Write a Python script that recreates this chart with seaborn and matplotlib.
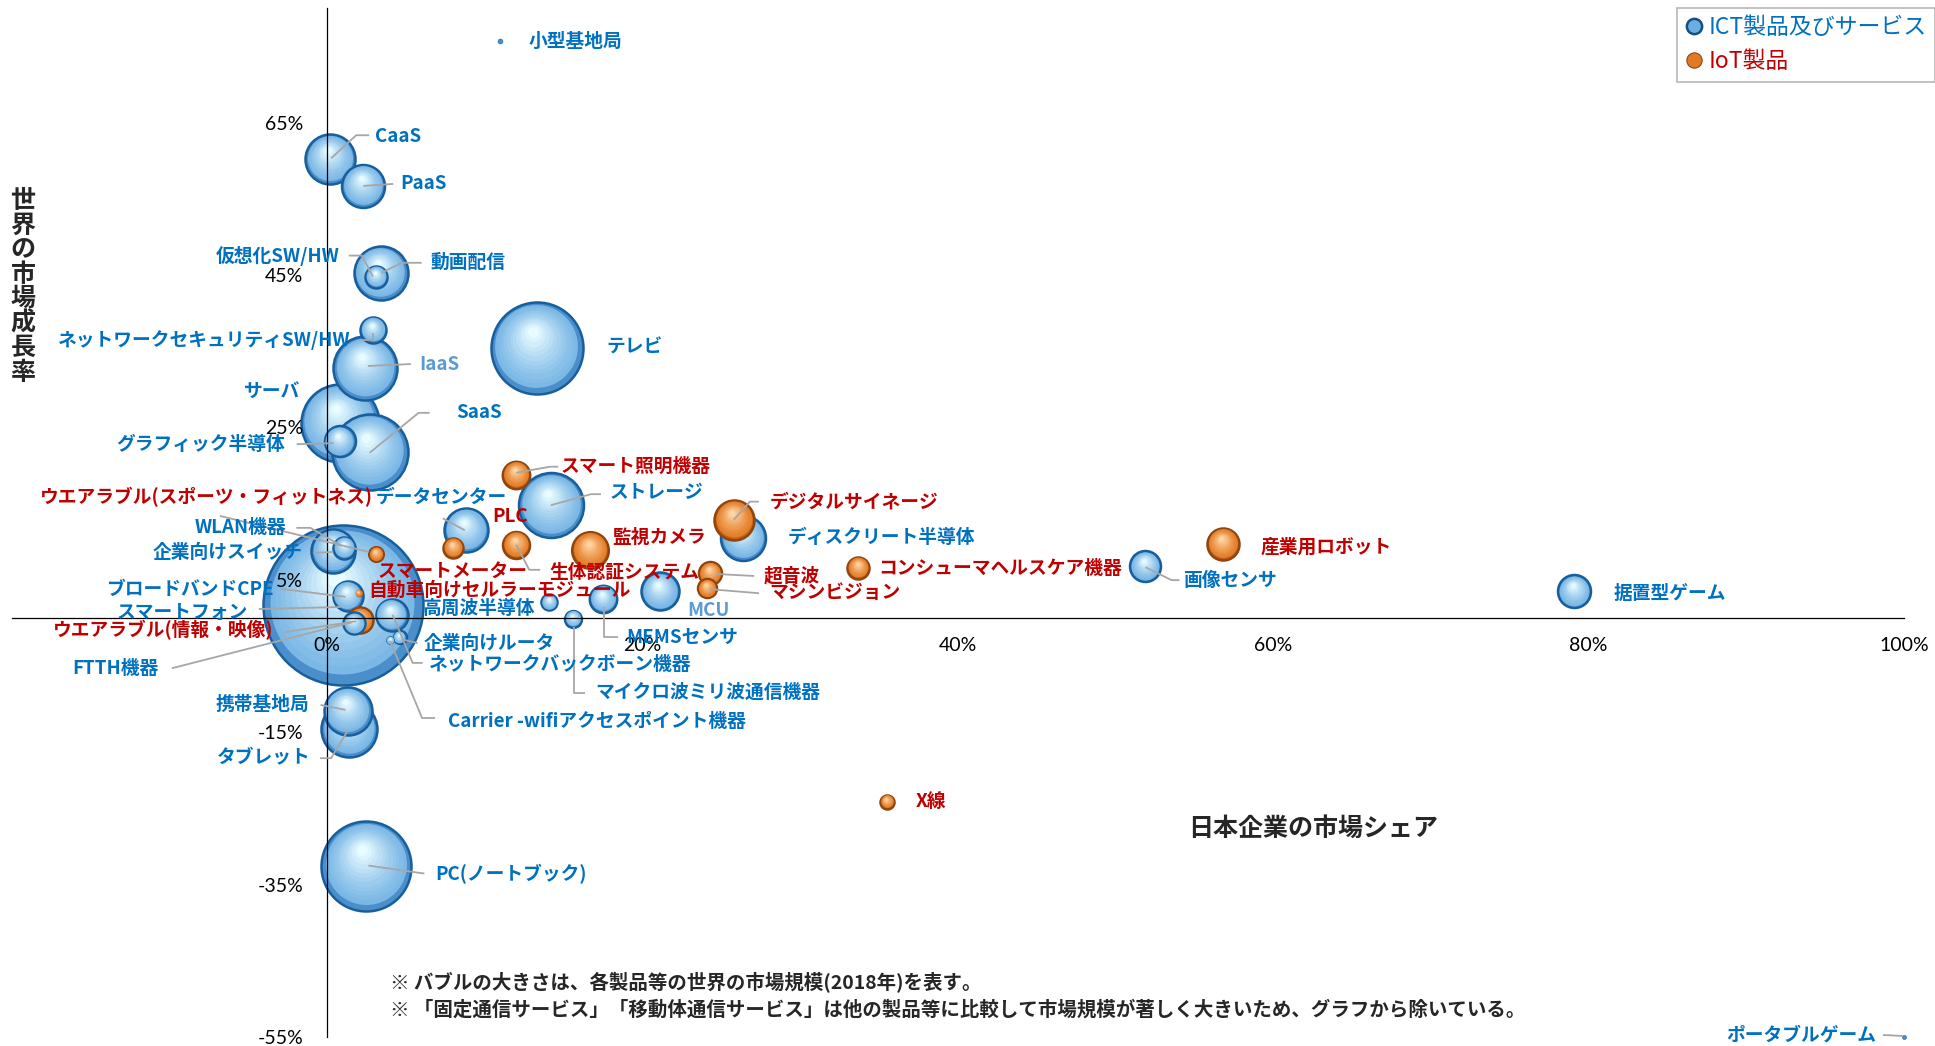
import numpy as np
import pandas as pd
import matplotlib
matplotlib.use("Agg")
import matplotlib.pyplot as plt
import seaborn as sns
from matplotlib.colors import to_rgb
from matplotlib.lines import Line2D

# ---------------- data ----------------
ict_names = ["小型基地局", "CaaS", "PaaS", "動画配信", "仮想化SW/HW", "ネットワークセキュリティSW/HW",
             "IaaS", "テレビ", "サーバ", "SaaS", "グラフィック半導体", "データセンター", "ストレージ",
             "WLAN機器", "企業向けスイッチ", "スマートフォン", "ブロードバンドCPE", "FTTH機器",
             "高周波半導体", "企業向けルータ", "ネットワークバックボーン機器",
             "Carrier -wifiアクセスポイント機器", "マイクロ波ミリ波通信機器", "MEMSセンサ", "MCU",
             "ディスクリート半導体", "画像センサ", "据置型ゲーム", "携帯基地局", "タブレット",
             "PC(ノートブック)", "ポータブルゲーム"]
ict_share = [11.0, 0.2, 2.3, 3.4, 3.1, 2.9, 2.4, 13.3, 0.8, 2.7, 0.8, 8.8, 14.2,
             1.1, 0.4, 1.0, 1.3, 1.7, 14.1, 4.6, 4.1, 4.0, 15.6, 17.5, 21.1,
             26.4, 51.9, 79.1, 1.3, 1.4, 2.5, 100.0]
ict_growth = [75.7, 60.2, 56.7, 45.3, 44.8, 37.8, 32.8, 35.4, 25.6, 21.8, 23.2, 11.5, 14.8,
              9.2, 8.8, 1.7, 2.9, -0.7, 2.1, -2.5, 0.4, -2.9, -0.1, 2.5, 3.5,
              10.5, 6.8, 3.5, -12.2, -14.6, -32.5, -55.0]
ict_size = [6, 625, 462, 729, 121, 169, 1024, 2116, 1521, 1444, 240, 484, 1056,
            121, 484, 6400, 225, 121, 64, 42, 256, 16, 71, 188, 361,
            506, 240, 272, 576, 784, 2025, 4]

iot_names = ["スマート照明機器", "スマートメーター", "生体認証システム", "監視カメラ",
             "ウエアラブル(スポーツ・フィットネス)", "ウエアラブル(情報・映像)",
             "自動車向けセルラーモジュール", "デジタルサイネージ", "超音波", "マシンビジョン",
             "コンシューマヘルスケア機器", "産業用ロボット", "X線"]
iot_share = [12.0, 8.0, 12.0, 16.7, 3.1, 2.1, 2.0, 25.8, 24.3, 24.1, 33.7, 56.8, 35.5]
iot_growth = [18.8, 9.2, 9.6, 8.9, 8.4, -0.3, 3.3, 12.9, 5.9, 3.9, 6.6, 9.7, -24.1]
iot_size = [188, 100, 182, 335, 53, 169, 12, 400, 132, 90, 121, 256, 49]

series_names = ["ICT製品及びサービス", "IoT製品"]
x_ticks = [0, 20, 40, 60, 80, 100]
y_ticks = [-55, -35, -15, 5, 25, 45, 65]
x_title = "日本企業の市場シェア"
y_title = "世界の市場成長率"
notes = ["※ バブルの大きさは、各製品等の世界の市場規模(2018年)を表す。",
         "※ 「固定通信サービス」「移動体通信サービス」は他の製品等に比較して市場規模が著しく大きいため、グラフから除いている。"]
extra_label = "PLC"

# ---------------- layout (pixel offsets from bubble centre, y downward) ----------------
LAYOUT = {
    "小型基地局": (28, 0, "left", None),
    "CaaS": (45, -23, "left", [(1, -1), (26, -24), (39, -24)]),
    "PaaS": (37, -2, "left", [(0, 0), (30, -2)]),
    "動画配信": (50, -10, "left", [(1, 0), (21, -10), (41, -10)]),
    "仮想化SW/HW": (-36, -21, "right", [(-3, 0), (-14, -21), (-27, -21)]),
    "ネットワークセキュリティSW/HW": (-22, 10, "right", [(0, 3), (0, 10), (-12, 10)]),
    "IaaS": (54, -4, "left", [(3, -2), (46, -4)]),
    "テレビ": (70, -1, "left", None),
    "サーバ": (-39, -31, "right", None),
    "SaaS": (87, -39, "left", [(0, 1), (49, -39), (60, -39)]),
    "グラフィック半導体": (-55, 3, "right", [(-43, 3), (-6, 2)]),
    "データセンター": (-90, -33, "left", [(-23, -12), (-1, 0)]),
    "ストレージ": (59, -13, "left", [(0, 0), (40, -11), (50, -11)]),
    "WLAN機器": (-58, -20, "right", [(-48, -20), (-34, -20), (-3, -2)]),
    "企業向けスイッチ": (-31, 2, "right", [(-20, 2), (0, 1)]),
    "スマートフォン": (-95, 7, "right", [(-84, 4), (-2, 2)]),
    "ブロードバンドCPE": (-74, -6, "right", [(-67, -7), (-2, 1)]),
    "FTTH機器": (-195, 45, "right", [(-182, 45), (-2, -1)]),
    "高周波半導体": (-126, 6, "left", None),
    "企業向けルータ": (24, 6, "left", [(5, 3), (18, 6)]),
    "ネットワークバックボーン機器": (37, 50, "left", [(1, 0), (21, 48), (31, 48)]),
    "Carrier -wifiアクセスポイント機器": (58, 81, "left", [(0, 1), (32, 78), (45, 78)]),
    "マイクロ波ミリ波通信機器": (22, 74, "left", [(1, 8), (1, 74), (12, 74)]),
    "MEMSセンサ": (23, 38, "left", [(1, 8), (1, 38), (15, 38)]),
    "MCU": (28, 19, "left", None),
    "ディスクリート半導体": (44, 0, "left", None),
    "画像センサ": (38, 14, "left", [(0, 1), (26, 14), (34, 14)]),
    "据置型ゲーム": (39, 2, "left", None),
    "携帯基地局": (-38, -6, "right", [(-27, -6), (-2, -1)]),
    "タブレット": (-38, 29, "right", [(-29, 29), (-18, 29), (-1, 1)]),
    "PC(ノートブック)": (69, 8, "left", [(2, 0), (58, 8)]),
    "ポータブルゲーム": (-28, -2, "right", [(-21, -2), (-1, -1)]),
    "スマート照明機器": (44, -8, "left", [(0, -2), (34, -8), (42, -8)]),
    "スマートメーター": (74, 23, "right", None),
    "生体認証システム": (33, 28, "left", [(0, 0), (13, 25), (24, 25)]),
    "監視カメラ": (22, -13, "left", None),
    "ウエアラブル(スポーツ・フィットネス)": (-3, -57, "right", [(-156, -38), (-7, -2)]),
    "ウエアラブル(情報・映像)": (-87, 10, "right", [(-76, 12), (-4, 1)]),
    "自動車向けセルラーモジュール": (10, -2, "left", None),
    "デジタルサイネージ": (36, -18, "left", [(0, 0), (16, -18), (25, -18)]),
    "超音波": (53, 3, "left", [(6, 1), (44, 3)]),
    "マシンビジョン": (62, 4, "left", [(3, 1), (52, 5)]),
    "コンシューマヘルスケア機器": (20, 1, "left", None),
    "産業用ロボット": (38, 3, "left", None),
    "X線": (29, 0, "left", None),
}
EXTRA_LABEL_POS = (10.5, 13.3)
LIGHT_LABELS = {"IaaS", "MCU"}

PAL = {
    "ICT": dict(edge="#175f9c", base="#4a8fcb", body="#7cb8e6", hi="#e8fbff", text="#0070c0"),
    "IoT": dict(edge="#8f4510", base="#c2600f", body="#e57f2a", hi="#ffd7a6", text="#c00000"),
}

W, H, DPI = 1935, 1046, 100
S_SCALE = (2 * 72 / DPI) ** 2   # size value (px^2 of radius) -> points^2
LABEL_FS = 13.5

sns.set_theme(style="white")
plt.rcParams["font.family"] = ["Noto Sans CJK JP", "DejaVu Sans"]

fig = plt.figure(figsize=(W / DPI, H / DPI), dpi=DPI)
fig.patch.set_facecolor("white")
ax = fig.add_axes([11.6 / W, 9 / H, (1904 - 11.6) / W, (1037 - 8.4) / H])
ax.set_facecolor("white")
ax.set_xlim(-20, 100)
ax.set_ylim(-55, 80)

df = pd.concat([
    pd.DataFrame(dict(name=ict_names, share=ict_share, growth=ict_growth, size=ict_size, group="ICT")),
    pd.DataFrame(dict(name=iot_names, share=iot_share, growth=iot_growth, size=iot_size, group="IoT")),
], ignore_index=True)
df_sorted = df.sort_values("size", ascending=False, kind="stable").reset_index(drop=True)

p0 = ax.transData.transform((0, 0))
p1 = ax.transData.transform((1, 1))
ppu = p1 - p0  # pixels per data unit


def mix(c1, c2, t):
    a, b = np.array(to_rgb(c1)), np.array(to_rgb(c2))
    return tuple(a + (b - a) * t)


N_LAYERS = 12
for i, row in df_sorted.iterrows():
    pal = PAL[row.group]
    s = row["size"] * S_SCALE
    r_px = np.sqrt(s) / 2 * DPI / 72
    z = 1.0 + i * 0.03
    lw = 1.8 if r_px > 6 else 0.4
    sns.scatterplot(x=[row.share], y=[row.growth], s=s, color=pal["base"], edgecolor=pal["edge"],
                    linewidth=lw, ax=ax, zorder=z, legend=False, clip_on=False)
    if r_px < 3:
        continue
    for k in range(N_LAYERS):
        t = k / (N_LAYERS - 1)
        f = 0.90 - 0.78 * t
        col = mix(pal["body"], pal["hi"], t ** 1.2)
        dx = -0.10 * (1 - f) * r_px / ppu[0]
        dy = 0.40 * (1 - f) * r_px / ppu[1]
        ax.scatter([row.share + dx], [row.growth + dy], s=s * f * f, color=col, linewidths=0,
                   zorder=z + 0.002 * (k + 1), clip_on=False)

# labels + leader lines
inv = ax.transData.inverted()
for _, row in df.iterrows():
    dx, dy, ha, leader = LAYOUT[row["name"]]
    col = PAL[row.group]["text"]
    if row["name"] in LIGHT_LABELS:
        col = "#5b9bd5"
    ax.annotate(row["name"], xy=(row.share, row.growth), xytext=(dx, -dy), textcoords="offset pixels",
                ha=ha, va="center", color=col, fontsize=LABEL_FS, fontweight="bold", zorder=6,
                annotation_clip=False)
    if leader:
        base = ax.transData.transform((row.share, row.growth))
        pts = np.array([[base[0] + ox, base[1] - oy] for ox, oy in leader])
        d = inv.transform(pts)
        ax.plot(d[:, 0], d[:, 1], color="#a6a6a6", lw=1.3, zorder=5, clip_on=False,
                solid_capstyle="butt")

ax.text(EXTRA_LABEL_POS[0], EXTRA_LABEL_POS[1], extra_label, ha="left", va="center",
        color=PAL["IoT"]["text"], fontsize=LABEL_FS, fontweight="bold", zorder=6)

# axes styling
for side in ["top", "right"]:
    ax.spines[side].set_visible(False)
ax.spines["left"].set_position(("data", 0))
ax.spines["bottom"].set_position(("data", 0))
for side in ["left", "bottom"]:
    ax.spines[side].set_color("black")
    ax.spines[side].set_linewidth(0.9)
ax.set_axisbelow(False)
ax.set_xticks(x_ticks)
ax.set_yticks(y_ticks)
ax.set_xticklabels([f"{v}%" for v in x_ticks])
ax.set_yticklabels([f"{v}%" for v in y_ticks])
ax.tick_params(axis="both", length=0, labelsize=14, colors="black")
ax.tick_params(axis="y", pad=17)
ax.tick_params(axis="x", pad=14)
for lab in ax.get_xticklabels() + ax.get_yticklabels():
    lab.set_fontfamily(["Lato", "DejaVu Sans"])
ax.grid(False)

# titles
fig.text(1313 / W, 1 - 829 / H, x_title, ha="center", va="center", fontsize=18, fontweight="bold")
fig.text(23 / W, 1 - 287 / H, "\n".join(y_title), ha="center", va="center", fontsize=18,
         fontweight="bold", linespacing=1.02)

# notes
fig.text(390 / W, 1 - 983 / H, notes[0], ha="left", va="center", fontsize=14, fontweight="bold")
fig.text(390 / W, 1 - 1010 / H, notes[1], ha="left", va="center", fontsize=14, fontweight="bold")

# legend
handles = [
    Line2D([], [], ls="", marker="o", markersize=11, markerfacecolor="#6aaee2",
           markeredgecolor="#17507f", markeredgewidth=1.8),
    Line2D([], [], ls="", marker="o", markersize=11, markerfacecolor="#e07a25",
           markeredgecolor="#8f4510", markeredgewidth=0.8),
]
leg = fig.legend(handles, series_names, loc="upper left", bbox_to_anchor=(1677 / W, 1 - 8 / H),
                 borderaxespad=0, frameon=True, fancybox=False, edgecolor="#a6a6a6",
                 fontsize=16.5, handlelength=0.8, handletextpad=0.25, borderpad=0.35,
                 labelspacing=0.5)
leg.get_frame().set_linewidth(1.2)
for txt, c in zip(leg.get_texts(), [PAL["ICT"]["text"], PAL["IoT"]["text"]]):
    txt.set_color(c)

fig.savefig("out.png", dpi=DPI)
